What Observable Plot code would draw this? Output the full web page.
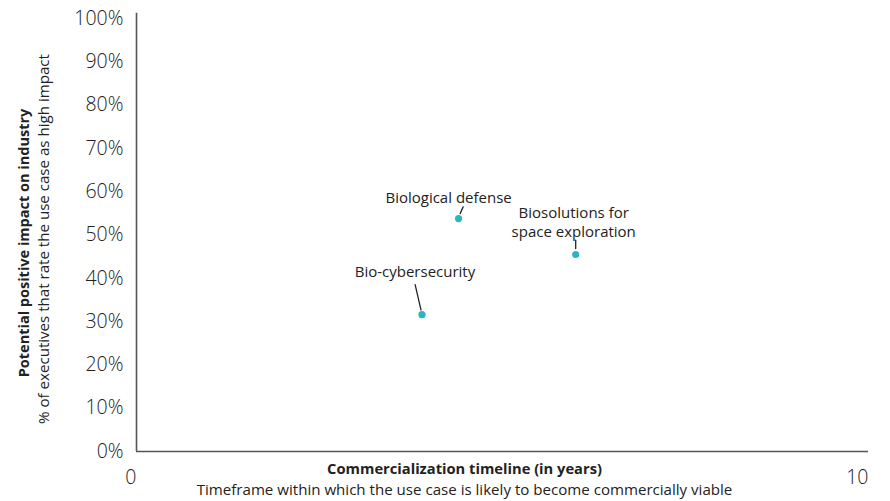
<!DOCTYPE html>
<html>
<head>
<meta charset="utf-8">
<script src="https://cdn.jsdelivr.net/npm/d3@7"></script>
<script src="https://cdn.jsdelivr.net/npm/@observablehq/plot@0.6"></script>
<style>
  html, body { margin: 0; padding: 0; background: #fff; }
  #chart { width: 890px; height: 501px; }
</style>
</head>
<body>
<div id="chart"></div>
<script>
// ---- data ----
const useCases = ["Biological defense", "Biosolutions for\nspace exploration", "Bio-cybersecurity"];
const timelineYears = [4.4, 6.0, 3.9];
const impactShare = [0.538, 0.455, 0.316];
const yTickValues = [0, 0.1, 0.2, 0.3, 0.4, 0.5, 0.6, 0.7, 0.8, 0.9, 1.0];
const xTickValues = [0, 10];
const xTitle = "Commercialization timeline (in years)";
const xSubtitle = "Timeframe within which the use case is likely to become commercially viable";
const yTitle = "Potential positive impact on industry";
const ySubtitle = "% of executives that rate the use case as high impact";

const points = useCases.map((name, i) => ({name, x: timelineYears[i], y: impactShare[i]}));

// layout of annotations (pixel offsets from each point)
const labelLayout = [
  {dx: -10, dy: -22, lx: 1.6, ly: -5, len: 7.3, rot: 24},
  {dx: -2, dy: -33, lx: 0, ly: -6, len: 8.3, rot: 0},
  {dx: -7, dy: -43.5, lx: -1, ly: -4.7, len: 26, rot: -13}
];

const teal = "#2bb5c3";
const ink = "#222";
const font = "'Open Sans', sans-serif";

const marks = [
  Plot.ruleY([0], {stroke: "#555", strokeWidth: 1.6}),
  Plot.ruleX([0], {y1: 0, y2: 1.012, stroke: "#555", strokeWidth: 1.6}),
  Plot.axisY({ticks: yTickValues, tickFormat: d3.format(".0%"), tickSize: 0, tickPadding: 13,
    fontSize: 19.5, fontWeight: 300, color: ink, label: null}),
  Plot.axisX({ticks: xTickValues, tickFormat: d => String(d), tickSize: 0, tickPadding: 19,
    fontSize: 19.5, fontWeight: 300, textAnchor: "end", color: ink, label: null}),
  // axis titles
  Plot.text([xTitle], {frameAnchor: "bottom", textAnchor: "middle", text: d => d, dx: -38, dy: 22, fontSize: 14.7, fontWeight: "bold", fill: ink}),
  Plot.text([xSubtitle], {frameAnchor: "bottom", textAnchor: "middle", text: d => d, dx: -38, dy: 43, fontSize: 15.1, fill: ink}),
  Plot.text([yTitle], {frameAnchor: "left", textAnchor: "middle", text: d => d, rotate: -90, dx: -112, dy: 8, fontSize: 14.5, fontWeight: "bold", fill: ink}),
  Plot.text([ySubtitle], {frameAnchor: "left", textAnchor: "middle", text: d => d, rotate: -90, dx: -92, dy: 4, fontSize: 15.1, fill: ink}),
];

points.forEach((p, i) => {
  const L = labelLayout[i];
  marks.push(Plot.vector([p], {x: "x", y: "y", anchor: "start", length: L.len, rotate: L.rot,
    dx: L.lx, dy: L.ly, stroke: ink, strokeWidth: 1.3, shape: {draw(ctx, l) { ctx.moveTo(0, 0); ctx.lineTo(0, -l); }}}));
  marks.push(Plot.text([p], {x: "x", y: "y", text: "name", dx: L.dx, dy: L.dy, fontSize: 15,
    lineHeight: 1.27, fill: ink}));
});
marks.push(Plot.dot(points, {x: "x", y: "y", r: 3.6, fill: teal}));

const chart = Plot.plot({
  width: 890,
  height: 501,
  marginLeft: 136,
  marginRight: 22,
  marginTop: 18,
  marginBottom: 50,
  style: {fontFamily: font, color: ink, background: "#fff", overflow: "visible"},
  x: {domain: [0, 10]},
  y: {domain: [0, 1]},
  marks
});
document.getElementById("chart").appendChild(chart);
</script>
</body>
</html>
